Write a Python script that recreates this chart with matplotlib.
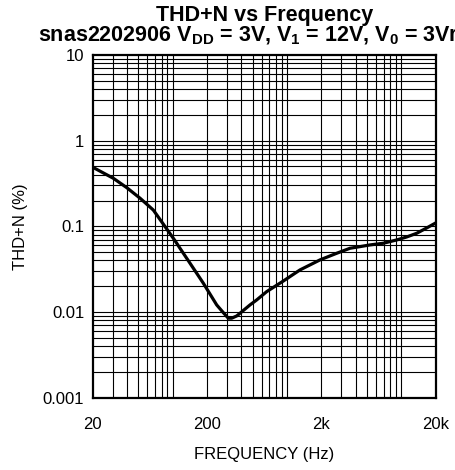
import matplotlib
matplotlib.use("Agg")
import matplotlib.pyplot as plt
import numpy as np

plt.rcParams['font.family'] = ['Liberation Sans', 'DejaVu Sans']
plt.rcParams['mathtext.fontset'] = 'custom'
plt.rcParams['mathtext.rm'] = 'Liberation Sans'
plt.rcParams['mathtext.bf'] = 'Liberation Sans:bold'
plt.rcParams['mathtext.it'] = 'Liberation Sans:italic'

# Data
freq_hz = [20, 24.8, 30.3, 39.7, 51.9, 67.8, 83, 101.4, 108.6, 116, 142,
           185.6, 243, 277.6, 307, 328.8, 363.7, 388.6, 475, 543.7, 665, 929,
           1300, 1946, 2723, 3561, 4356, 5326, 6966, 9120, 11154, 13640, 16680,
           20000]
thdn_pct = [0.49, 0.42, 0.364, 0.283, 0.213, 0.155, 0.106, 0.0726,
            0.0635, 0.0555, 0.0371, 0.0217, 0.0121, 0.00984, 0.00847, 0.00847,
            0.009, 0.00968, 0.0121, 0.01384, 0.0173, 0.0230, 0.031, 0.0406,
            0.0485, 0.0555, 0.058, 0.0607, 0.0635, 0.0694, 0.0752, 0.083,
            0.0958, 0.1096]

x_ticks = [20, 200, 2000, 20000]
x_tick_labels = ['20', '200', '2k', '20k']
y_ticks = [0.001, 0.01, 0.1, 1, 10]
y_tick_labels = ['0.001', '0.01', '0.1', '1', '10']

title_line1 = 'THD+N vs Frequency'
title_line2 = r'snas2202906 V$_{\mathbf{DD}}$ = 3V, V$_{\mathbf{1}}$ = 12V, V$_{\mathbf{0}}$ = 3Vrms'
x_label = 'FREQUENCY (Hz)'
y_label = 'THD+N (%)'

fig = plt.figure(figsize=(4.56, 4.70), dpi=100)
ax = fig.add_axes([92.7/456, 1 - 397.7/470, (435.7-92.7)/456, (397.7-55)/470])

ax.set_xscale('log')
ax.set_yscale('log')
ax.set_xlim(20, 20000)
ax.set_ylim(0.001, 10)

# grid lines: vertical at 1.5x..5x of each decade start (20, 200, 2000)
vgrid = []
for base in [20, 200, 2000]:
    for m in [1.5, 2, 2.5, 3, 3.5, 4, 4.5, 5, 10]:
        v = base * m
        if v < 20000:
            vgrid.append(v)
for v in vgrid:
    ax.axvline(v, color='black', lw=0.8, zorder=1)
hgrid = []
for dec in [0.001, 0.01, 0.1, 1]:
    for m in range(1, 10):
        v = dec * m
        if v > 0.001:
            hgrid.append(v)
for h in hgrid:
    ax.axhline(h, color='black', lw=0.8, zorder=1)

ax.plot(freq_hz, thdn_pct, color='black', lw=2.3, zorder=3,
        solid_capstyle='round', solid_joinstyle='round')

ax.set_xticks(x_ticks)
ax.set_xticklabels(x_tick_labels)
ax.set_yticks(y_ticks)
ax.set_yticklabels(y_tick_labels)
ax.xaxis.set_minor_locator(matplotlib.ticker.NullLocator())
ax.yaxis.set_minor_locator(matplotlib.ticker.NullLocator())
ax.tick_params(axis='both', length=0, labelsize=12)
ax.tick_params(axis='x', pad=14)
ax.tick_params(axis='y', pad=6)

for s in ax.spines.values():
    s.set_linewidth(1.6)
    s.set_color('black')

ax.set_xlabel(x_label, fontsize=12, labelpad=11)
ax.set_ylabel(y_label, fontsize=12, labelpad=11)

cx = (92.7 + 435.7) / 2 / 456
fig.text(cx, 1 - 16/470, title_line1, ha='center', va='center', fontsize=15.5, fontweight='bold')
fig.text(cx, 1 - 36/470, title_line2, ha='center', va='center', fontsize=15.5, fontweight='bold')

fig.savefig('out.png', dpi=100)
